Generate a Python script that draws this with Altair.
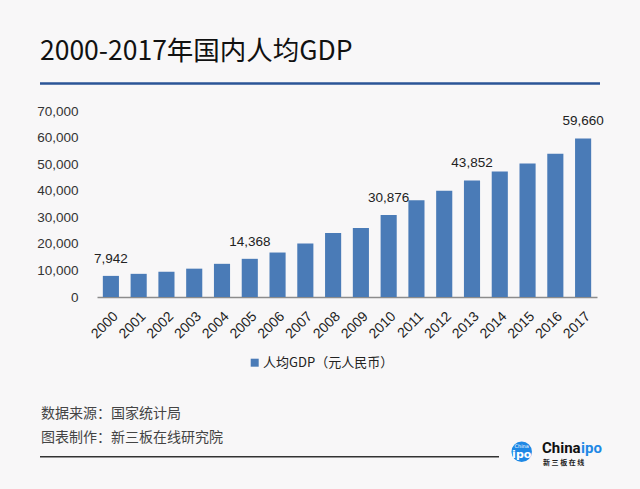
import altair as alt
import pandas as pd

# ---- data ----
years = [str(y) for y in range(2000, 2018)]
gdp = [7942, 8717, 9506, 10666, 12487, 14368, 16738, 20169, 24121, 25963,
       30876, 36403, 40007, 43852, 47203, 50251, 53935, 59660]
labeled_years = ["2000", "2005", "2010", "2013", "2017"]
y_ticks = [0, 10000, 20000, 30000, 40000, 50000, 60000, 70000]
title_text = "2000-2017年国内人均GDP"
legend_text = "人均GDP（元人民币）"
source_text = "数据来源：国家统计局"
maker_text = "图表制作：新三板在线研究院"
logo_a = "China"
logo_b = "ipo"
logo_sub = "新 三 板 在 线"

BLUE = "#4a7bb7"
BG = "#f8f7f8"
NUMFONT = "Liberation Sans"
CJK = "Noto Sans CJK SC"

df = pd.DataFrame({"year": years, "gdp": gdp})
df["label"] = [f"{v:,}" if y in labeled_years else "" for y, v in zip(years, gdp)]

W, H = 500, 186

x_enc = alt.X("year:N",
              scale=alt.Scale(paddingInner=0.42, paddingOuter=0.21),
              axis=alt.Axis(title=None, labelAngle=-45, labelFontSize=14,
                            labelFont=NUMFONT, labelColor="#222222",
                            domainColor="#8c8c8c", domainWidth=1.5,
                            ticks=False, labelPadding=12))
y_enc = alt.Y("gdp:Q",
              scale=alt.Scale(domain=[0, 70000], nice=False),
              axis=alt.Axis(title=None, values=y_ticks,
                            labelExpr="format(datum.value, ',')",
                            domain=False, ticks=False, grid=False,
                            labelPadding=19, labelFontSize=13.5,
                            labelFont=NUMFONT, labelColor="#333333"))

base = alt.Chart(df).encode(x=x_enc, y=y_enc)
bars = base.mark_bar(color=BLUE)
labels = base.transform_filter("datum.label != ''").mark_text(
    dy=-13, baseline="alphabetic", fontSize=13.5, font=NUMFONT, color="#222222"
).encode(text="label:N")


def one(s):
    return pd.DataFrame({"t": [s]})


def txt(s, x, y, **kw):
    return alt.Chart(one(s)).mark_text(**kw).encode(
        x=alt.value(x), y=alt.value(y), text="t:N")


def rule(x1, x2, y, color, width):
    return alt.Chart(one("r")).mark_rule(color=color, strokeWidth=width).encode(
        x=alt.value(x1), x2=alt.value(x2), y=alt.value(y))


title = txt(title_text, -57, -51, align="left", baseline="alphabetic",
            fontSize=26.5, font=CJK, color="#111111")
title_line = rule(-57, 503, -27.5, "#2b5597", 2.5)

legend_sq = alt.Chart(one("s")).mark_square(color=BLUE, opacity=1, size=64).encode(
    x=alt.value(157.7), y=alt.value(251.7))
legend_tx = txt(legend_text, 166, 252, align="left", baseline="middle",
                fontSize=13, font=CJK, color="#222222")

src = txt(source_text, -56, 303, align="left", baseline="middle",
          fontSize=14, font=CJK, color="#444444")
mk = txt(maker_text, -56, 327, align="left", baseline="middle",
         fontSize=14, font=CJK, color="#444444")
bottom_line = rule(-57, 402, 345.7, "#333333", 1.5)

logo_circle = alt.Chart(one("c")).mark_circle(color="#1e88e5", opacity=1, size=420).encode(
    x=alt.value(424.7), y=alt.value(340.7))
logo_in = txt(logo_b, 424.7, 344, align="center", baseline="middle",
              fontSize=11, font="DejaVu Sans", fontWeight="bold", color="white")
logo_in2 = txt(logo_a, 424.7, 334.5, align="center", baseline="middle",
               fontSize=5, font="DejaVu Sans", color="white")
logo_t1 = txt(logo_a, 445, 336.5, align="left", baseline="middle",
              fontSize=15, font="Roboto", fontWeight="bold", color="#111111")
logo_t2 = txt(logo_b, 484, 336.5, align="left", baseline="middle",
              fontSize=15, font="Roboto", fontWeight="bold", color="#1e88e5")
logo_t3 = txt(logo_sub, 446, 352, align="left", baseline="middle",
              fontSize=7, font=CJK, fontWeight="bold", color="#222222")

chart = alt.layer(
    bars, labels, title, title_line, legend_sq, legend_tx, src, mk,
    bottom_line, logo_circle, logo_in, logo_in2, logo_t1, logo_t2, logo_t3
).properties(
    width=W, height=H,
    autosize=alt.AutoSizeParams(type="none"),
    padding={"left": 97, "top": 111, "right": 43, "bottom": 192},
    background=BG,
).configure_view(stroke=None)

chart.save("out.html", embed_options={"renderer": "svg", "actions": False})
